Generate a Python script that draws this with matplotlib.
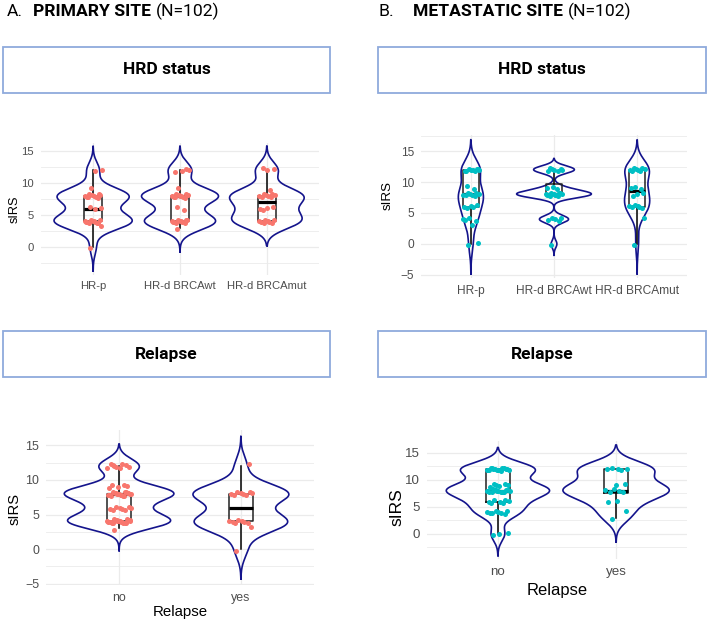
import matplotlib.pyplot as plt
import numpy as np
from matplotlib.patches import Rectangle

# sIRS scores, given as distinct values and how many patients have each
hrd_labels = ["HR-p", "HR-d BRCAwt", "HR-d BRCAmut"]
relapse_labels = ["no", "yes"]

# A. primary site
prim_hrp_vals = [0, 3, 4, 6, 8, 9, 12]
prim_hrp_counts = [1, 1, 11, 3, 10, 1, 2]
prim_wt_vals = [3, 4, 6, 8, 9, 12]
prim_wt_counts = [1, 11, 2, 12, 1, 4]
prim_mut_vals = [4, 6, 8, 9, 12]
prim_mut_counts = [8, 4, 8, 1, 3]
prim_no_vals = [3, 4, 6, 8, 9, 12]
prim_no_counts = [1, 21, 8, 20, 5, 9]
prim_yes_vals = [0, 3, 4, 8, 12]
prim_yes_counts = [1, 1, 7, 8, 1]

# B. metastatic site
met_hrp_vals = [0, 3, 4, 6, 8, 9, 12]
met_hrp_counts = [2, 1, 4, 5, 8, 2, 9]
met_wt_vals = [0, 4, 8, 9, 12]
met_wt_counts = [1, 5, 12, 3, 7]
met_mut_vals = [0, 4, 6, 8, 9, 12]
met_mut_counts = [1, 1, 6, 3, 3, 8]
met_no_vals = [0, 4, 6, 8, 9, 12]
met_no_counts = [3, 8, 7, 16, 6, 16]
met_yes_vals = [3, 4, 6, 8, 9, 12]
met_yes_counts = [1, 1, 2, 5, 2, 5]

W, H = 708, 624
fig = plt.figure(figsize=(W / 100, H / 100), dpi=100)

RED = "#F8766D"
CYAN = "#00BFC4"
VIOLIN = "#14148c"
GRID = "#EBEBEB"
AXFONT = "Liberation Sans"
TITLEFONT = "Roboto"


def scores(vals, counts):
    return np.repeat(np.array(vals, float), counts)


def nrd0(x):
    sd = x.std(ddof=1)
    iqr = np.percentile(x, 75) - np.percentile(x, 25)
    lo = min(sd, iqr / 1.34)
    if lo == 0:
        lo = sd
    return 0.9 * lo * len(x) ** -0.2


def px_axes(x0, y0, x1, y1):
    return fig.add_axes([x0 / W, 1 - y1 / H, (x1 - x0) / W, (y1 - y0) / H])


def panel(ax, groups, labels, color, ylim, fs):
    # violins (untrimmed, gaussian kde, area scaled like ggplot)
    curves = []
    for g in groups:
        bw = nrd0(g)
        ys = np.linspace(g.min() - 3 * bw, g.max() + 3 * bw, 512)
        d = np.exp(-0.5 * ((ys[:, None] - g[None, :]) / bw) ** 2).sum(axis=1)
        d = d / (len(g) * bw * np.sqrt(2 * np.pi))
        curves.append((ys, d))
    dmax = max(d.max() for ys, d in curves)
    for i, (ys, d) in enumerate(curves):
        w = d / dmax * 0.45
        pos = i + 1
        ax.plot(np.r_[pos + w, (pos - w)[::-1], pos + w[0]],
                np.r_[ys, ys[::-1], ys[0]], color=VIOLIN, lw=1.2, zorder=2)

    ax.boxplot(groups, positions=np.arange(1, len(groups) + 1), widths=0.2,
               whis=1.5, showfliers=False, showcaps=False,
               medianprops=dict(color="black", lw=2.3),
               boxprops=dict(color="#222222", lw=1.1),
               whiskerprops=dict(color="black", lw=1.1), zorder=3)

    # jittered points (fixed low-discrepancy offsets, not data)
    for i, g in enumerate(groups):
        k = np.arange(len(g))
        dx = ((k * 0.618034 + 0.31) % 1 - 0.5) * 0.2
        dy = ((k * 0.754878 + 0.13) % 1 - 0.5) * 0.6
        ax.scatter(i + 1 + dx, g + dy, s=13, color=color, linewidths=0, zorder=4)

    ax.set_xlim(0.4, len(groups) + 0.6)
    ax.set_ylim(*ylim)
    ax.set_xticks(np.arange(1, len(groups) + 1))
    ax.set_xticklabels(labels)
    ax.set_yticks([t for t in [-5, 0, 5, 10, 15] if ylim[0] <= t <= ylim[1]])
    ax.set_yticks([t for t in [-2.5, 2.5, 7.5, 12.5, 17.5] if ylim[0] <= t <= ylim[1]], minor=True)
    ax.grid(which="major", color=GRID, lw=0.9)
    ax.grid(which="minor", axis="y", color=GRID, lw=0.6)
    ax.set_axisbelow(True)
    for s in ax.spines.values():
        s.set_visible(False)
    ax.tick_params(which="both", length=0, pad=5, labelcolor="#4D4D4D", labelsize=fs)
    for lab in ax.get_xticklabels() + ax.get_yticklabels():
        lab.set_family(AXFONT)


prim_hrd = [scores(prim_hrp_vals, prim_hrp_counts), scores(prim_wt_vals, prim_wt_counts),
            scores(prim_mut_vals, prim_mut_counts)]
prim_rel = [scores(prim_no_vals, prim_no_counts), scores(prim_yes_vals, prim_yes_counts)]
met_hrd = [scores(met_hrp_vals, met_hrp_counts), scores(met_wt_vals, met_wt_counts),
           scores(met_mut_vals, met_mut_counts)]
met_rel = [scores(met_no_vals, met_no_counts), scores(met_yes_vals, met_yes_counts)]

panel(px_axes(41, 142.7, 319, 274.5), prim_hrd, hrd_labels, RED, (-4.3, 16.3), 8.1)
panel(px_axes(421, 135.2, 687, 278.4), met_hrd, hrd_labels, CYAN, (-5.55, 17.55), 8.6)
panel(px_axes(46, 430.3, 314, 584.9), prim_rel, relapse_labels, RED, (-5.2, 17.2), 8.9)
panel(px_axes(427, 441.1, 687, 558.8), met_rel, relapse_labels, CYAN, (-4.6, 17.2), 9.6)

# axis titles
for x, y, fs in [(14.5, 209, 9.2), (388, 196, 9.6), (15, 509, 10.6), (397, 507, 12.5)]:
    fig.text(x / W, 1 - y / H, "sIRS", rotation=90, ha="center", va="center",
             fontsize=fs, family=AXFONT)
for x, y, fs in [(180, 612, 10.8), (557, 591, 11.9)]:
    fig.text(x / W, 1 - y / H, "Relapse", ha="center", va="center",
             fontsize=fs, family=AXFONT)

# strip boxes
for x0, y0, x1, y1, txt in [(3, 47, 330, 93, "HRD status"), (378, 47, 706, 93, "HRD status"),
                            (3, 331, 330, 377, "Relapse"), (378, 331, 706, 377, "Relapse")]:
    fig.add_artist(Rectangle((x0 / W, 1 - y1 / H), (x1 - x0) / W, (y1 - y0) / H,
                             transform=fig.transFigure, facecolor="white",
                             edgecolor="#8FAADC", lw=1.3))
    fig.text((x0 + x1) / 2 / W, 1 - (y0 + y1) / 2 / H, txt, ha="center", va="center",
             fontsize=12.5, fontweight="bold", family=TITLEFONT)

# panel headings: letter, bold site name, then the count right after it
renderer = fig.canvas.get_renderer()
for x_letter, x_name, name in [(7, 33, "PRIMARY SITE"), (379, 413, "METASTATIC SITE")]:
    fig.text(x_letter / W, 1 - 16 / H, x_letter == 7 and "A." or "B.", ha="left",
             va="baseline", fontsize=12.6, family=TITLEFONT)
    t = fig.text(x_name / W, 1 - 16 / H, name, ha="left", va="baseline", fontsize=12.6,
                 fontweight="bold", family=TITLEFONT)
    x_end = t.get_window_extent(renderer).x1
    fig.text((x_end + 5) / W, 1 - 16 / H, "(N=102)", ha="left", va="baseline",
             fontsize=12.6, family=TITLEFONT)

fig.savefig("out.png", dpi=100)
